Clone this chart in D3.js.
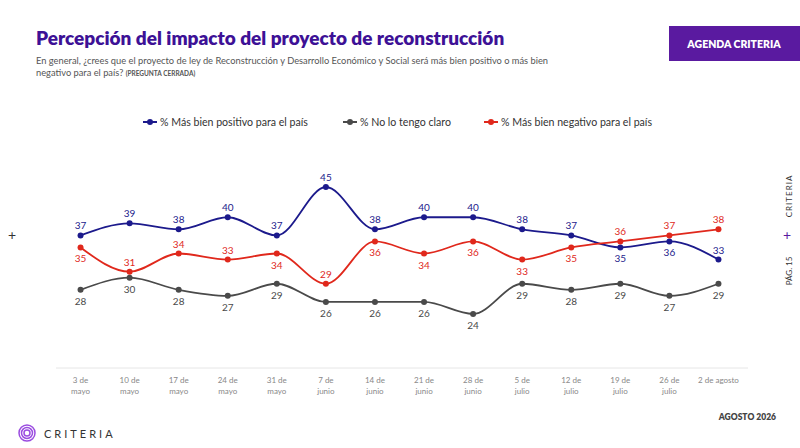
<!DOCTYPE html>
<html><head><meta charset="utf-8">
<script src="https://cdn.jsdelivr.net/npm/d3@7"></script>
<style>body{margin:0;background:#fff}svg{font-family:Lato,"Open Sans",sans-serif}</style>
</head><body><svg width="800" height="448"></svg>
<script>
const dates = ["3 de|mayo","10 de|mayo","17 de|mayo","24 de|mayo","31 de|mayo","7 de|junio","14 de|junio","21 de|junio","28 de|junio","5 de|julio","12 de|julio","19 de|julio","26 de|julio","2 de agosto"];
const positivo = [37,39,38,40,37,45,38,40,40,38,37,35,36,33];
const noClaro  = [28,30,28,27,29,26,26,26,24,29,28,29,27,29];
const negativo = [35,31,34,33,34,29,36,34,36,33,35,36,37,38];
// label side: a = above, b = below
const posSide = "aaaaaaaaaaabba";
const noSide  = "bbbbbbbbbbbbbb";
const negSide = "baaababbbbbaaa";

const svg = d3.select("svg");
const purple = "#5a1aa0";

svg.append("text").attr("x",36).attr("y",45).attr("fill","#3d1196")
  .style("font-size","19px").style("font-weight","800")
  .text("Percepción del impacto del proyecto de reconstrucción");
svg.append("text").attr("x",36).attr("y",64).attr("fill","#555").style("font-size","9.3px")
  .text("En general, ¿crees que el proyecto de ley de Reconstrucción y Desarrollo Económico y Social será más bien positivo o más bien");
const t2 = svg.append("text").attr("x",36).attr("y",76).attr("fill","#555").style("font-size","9.3px");
t2.append("tspan").text("negativo para el país? ");
t2.append("tspan").style("font-size","6.5px").style("font-weight","700").text("(PREGUNTA CERRADA)");

svg.append("rect").attr("x",669).attr("y",26).attr("width",131).attr("height",35).attr("fill",purple);
svg.append("text").attr("x",734).attr("y",48).attr("text-anchor","middle").attr("fill","#fff")
  .style("font-size","10.5px").style("font-weight","800").text("AGENDA CRITERIA");

const x = d3.scaleBand().domain(dates).range([56,743]).padding(0);
const cx = d => x(d) + x.bandwidth()/2;
const y = d3.scaleLinear().domain([24,45]).range([314,187]);

svg.append("line").attr("x1",56).attr("x2",748).attr("y1",368).attr("y2",368).attr("stroke","#e6e6e6");
const xl = svg.append("g").selectAll("text").data(dates).join("text")
  .attr("x",cx).attr("y",383).attr("text-anchor","middle").attr("fill","#888").style("font-size","8px");
xl.each(function(d){
  const parts = d.split("|");
  parts.forEach((p,i)=>d3.select(this).append("tspan").attr("x",cx(d)).attr("dy",i?11:0).text(p));
});

const series = [
  {name:"% Más bien positivo para el país", v:positivo, side:posSide, c:"#1c1a8c"},
  {name:"% No lo tengo claro", v:noClaro, side:noSide, c:"#4a4a4a"},
  {name:"% Más bien negativo para el país", v:negativo, side:negSide, c:"#e0281c"}
];
const line = d3.line().x((d,i)=>cx(dates[i])).y(d=>y(d)).curve(d3.curveMonotoneX);
series.forEach(s=>{
  const g = svg.append("g");
  g.append("path").attr("d",line(s.v)).attr("fill","none").attr("stroke",s.c).attr("stroke-width",1.8);
  g.selectAll("circle").data(s.v).join("circle").attr("cx",(d,i)=>cx(dates[i])).attr("cy",y)
    .attr("r",3).attr("fill",s.c);
  g.selectAll("text").data(s.v).join("text").attr("x",(d,i)=>cx(dates[i]))
    .attr("y",(d,i)=>s.side[i]==="a"?y(d)-6:y(d)+15).attr("text-anchor","middle")
    .attr("fill",s.c).style("font-size","10px").text(d=>d);
});

const legX = [143,343,484];
series.forEach((s,i)=>{
  const g = svg.append("g").attr("transform",`translate(${legX[i]},122)`);
  g.append("line").attr("x1",0).attr("x2",14).attr("stroke",s.c).attr("stroke-width",2);
  g.append("circle").attr("cx",7).attr("r",3).attr("fill",s.c);
  g.append("text").attr("x",17).attr("y",4).attr("fill","#333").style("font-size","10.6px").text(s.name);
});

svg.append("text").attr("x",12).attr("y",240).attr("text-anchor","middle").attr("fill","#333").style("font-size","14px").text("+");
svg.append("text").attr("x",787).attr("y",240).attr("text-anchor","middle").attr("fill",purple).style("font-size","14px").text("+");
svg.append("text").attr("transform","translate(792,196) rotate(-90)").attr("text-anchor","middle")
  .attr("fill","#333").style("font-size","8px").style("letter-spacing","1px").text("CRITERIA");
svg.append("text").attr("transform","translate(792,271) rotate(-90)").attr("text-anchor","middle")
  .attr("fill","#333").style("font-size","8px").text("PÁG. 15");

svg.append("text").attr("x",776).attr("y",420).attr("text-anchor","end").attr("fill","#444")
  .style("font-size","8.5px").style("font-weight","800").text("AGOSTO 2026");
const lg = svg.append("g").attr("transform","translate(27,433)");
[8,5.5,3].forEach(r=>lg.append("circle").attr("r",r).attr("fill","none").attr("stroke","#9b4de0").attr("stroke-width",1.5));
svg.append("text").attr("x",44).attr("y",438).attr("fill","#333").style("font-size","11px")
  .style("letter-spacing","3px").text("CRITERIA");
</script></body></html>
